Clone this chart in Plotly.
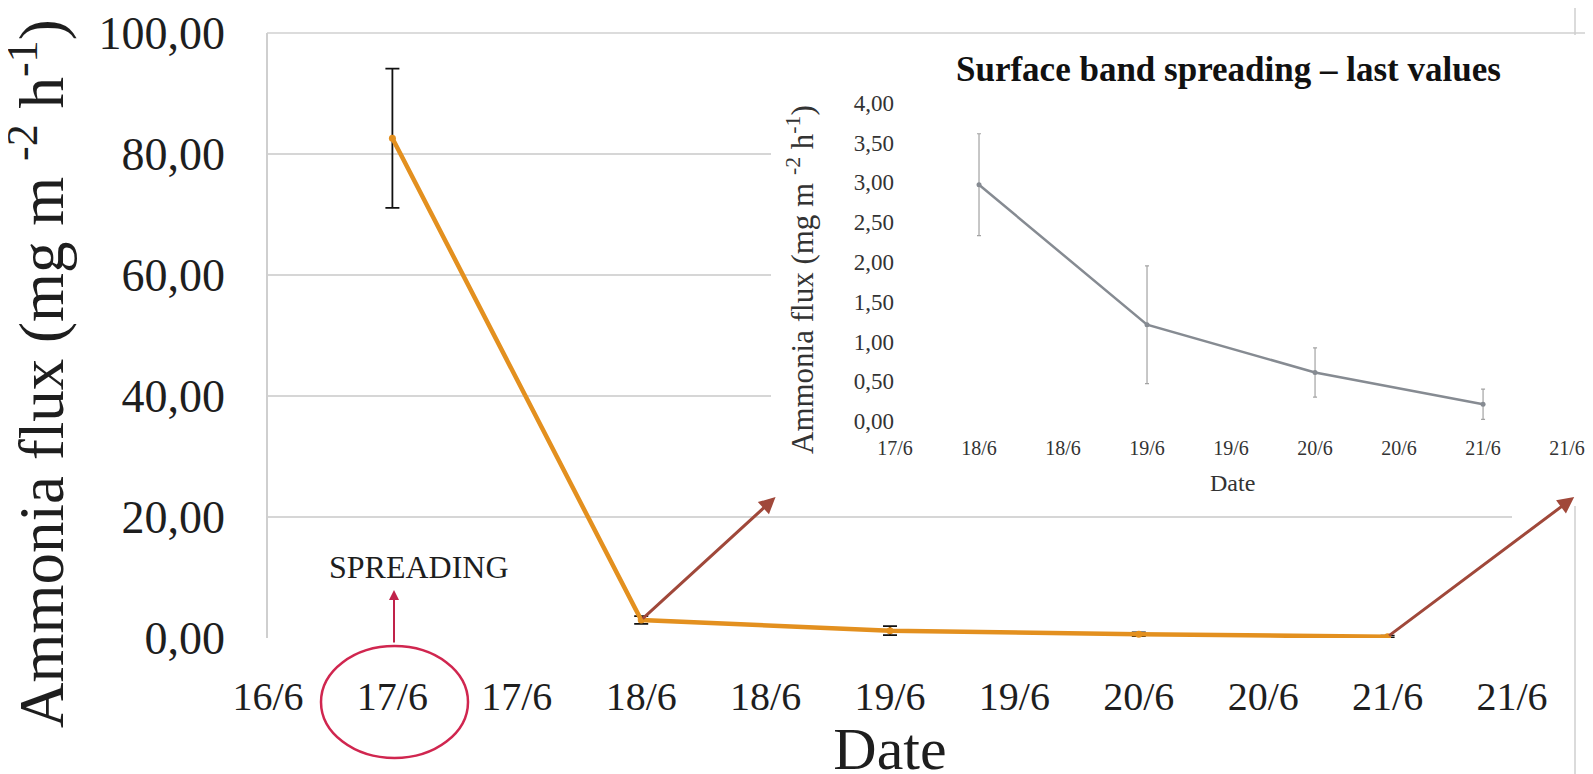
import plotly.graph_objects as go

# ---- data (day of June) ----
dates = [17, 18, 19, 20, 21]
flux = [82.6, 2.97, 1.21, 0.61, 0.21]
flux_err = [11.5, 0.64, 0.74, 0.31, 0.19]

main_tick_vals = [16.5, 17, 17.5, 18, 18.5, 19, 19.5, 20, 20.5, 21, 21.5]
main_tick_text = ["16/6", "17/6", "17/6", "18/6", "18/6", "19/6", "19/6", "20/6", "20/6", "21/6", "21/6"]
main_y_ticks = [0, 20, 40, 60, 80, 100]

inset_tick_vals = [17.5, 18, 18.5, 19, 19.5, 20, 20.5, 21, 21.5]
inset_tick_text = ["17/6", "18/6", "18/6", "19/6", "19/6", "20/6", "20/6", "21/6", "21/6"]
inset_y_ticks = [0, 0.5, 1, 1.5, 2, 2.5, 3, 3.5, 4]

W, H = 1593, 774
SERIF = "Liberation Serif, Times New Roman, serif"
YTITLE = "Ammonia flux (mg m <sup>-2</sup> h<sup>-1</sup>)"


def px(x):
    return x / W


def py(y):
    return 1 - y / H


fig = go.Figure()

# main series
fig.add_trace(go.Scatter(
    x=dates, y=flux, mode="lines+markers",
    line=dict(color="#E3901F", width=4.5),
    marker=dict(size=7, color="#E3901F"),
    error_y=dict(type="data", array=flux_err, color="#111111", thickness=1.8, width=7),
    xaxis="x", yaxis="y", showlegend=False,
))

# inset series (last values)
fig.add_trace(go.Scatter(
    x=dates[1:], y=flux[1:], mode="lines+markers",
    line=dict(color="#868b92", width=2.5),
    marker=dict(size=5, color="#868b92"),
    error_y=dict(type="data", array=flux_err[1:], color="#a3a3a3", thickness=1.2, width=2),
    xaxis="x2", yaxis="y2", showlegend=False,
))

fig.update_layout(
    width=W, height=H,
    margin=dict(l=0, r=0, t=0, b=0, autoexpand=False),
    paper_bgcolor="white", plot_bgcolor="white",
    separators=", ",
    showlegend=False,
    xaxis=dict(
        domain=[px(260), px(1504)], range=[16.5, 21.5], anchor="y", automargin=False,
        tickmode="array", tickvals=main_tick_vals, ticktext=main_tick_text,
        tickfont=dict(family=SERIF, size=40, color="#1e1e1e"),
        showgrid=False, zeroline=False, showline=False, ticks="",
        ticklabelstandoff=31, ticklabeloverflow="allow",
        title=dict(text="Date", font=dict(family=SERIF, size=60, color="#1e1e1e"), standoff=6),
    ),
    yaxis=dict(
        domain=[py(630), py(25)], range=[0, 100], anchor="x", automargin=False,
        tickmode="array", tickvals=main_y_ticks, tickformat=".2f",
        tickfont=dict(family=SERIF, size=46, color="#1e1e1e"),
        showgrid=True, gridcolor="#d6d6d6", gridwidth=1.5,
        zeroline=False, showline=True, linecolor="#cfcfcf", linewidth=1.5, ticks="",
        ticklabelstandoff=32, ticklabeloverflow="allow",
    ),
    xaxis2=dict(
        domain=[px(763), px(1571)], range=[16.762, 21.571], anchor="free", position=py(413),
        automargin=False,
        tickmode="array", tickvals=inset_tick_vals, ticktext=inset_tick_text,
        tickfont=dict(family=SERIF, size=20, color="#333333"),
        showgrid=False, zeroline=False, showline=False, ticks="",
        ticklabelstandoff=13, ticklabeloverflow="allow",
    ),
    yaxis2=dict(
        domain=[py(498), py(27)], range=[-1.068, 4.851], anchor="free", position=px(892),
        automargin=False,
        tickmode="array", tickvals=inset_y_ticks, tickformat=".2f",
        tickfont=dict(family=SERIF, size=23, color="#333333"),
        showgrid=False, zeroline=False, showline=False, ticks="",
        ticklabelstandoff=6, ticklabeloverflow="allow",
    ),
)

# frame lines of the chart area
fig.add_shape(type="line", xref="paper", yref="paper", x0=px(259), x1=1, y0=py(25), y1=py(25),
              line=dict(color="#d0d0d0", width=1.5), layer="below")
fig.add_shape(type="line", xref="paper", yref="paper", x0=px(1567), x1=px(1567), y0=0, y1=1,
              line=dict(color="#cfcfcf", width=1.5), layer="below")

# red ellipse around the spreading date
fig.add_shape(type="circle", xref="paper", yref="paper",
              x0=px(313), x1=px(460), y0=py(750), y1=py(638),
              line=dict(color="#D0264F", width=2.5), layer="above")

# main y-axis title
fig.add_annotation(text=YTITLE, xref="paper", yref="paper", x=px(30), y=py(366),
                   xanchor="center", yanchor="middle", textangle=-90, showarrow=False,
                   font=dict(family=SERIF, size=63, color="#1e1e1e"))

# inset titles
fig.add_annotation(text="<b>Surface band spreading – last values</b>", xref="paper", yref="paper",
                   x=px(1220), y=py(62), xanchor="center", yanchor="middle", showarrow=False,
                   font=dict(family=SERIF, size=35, color="#111111"))
fig.add_annotation(text=YTITLE, xref="paper", yref="paper", x=px(792), y=py(272),
                   xanchor="center", yanchor="middle", textangle=-90, showarrow=False,
                   font=dict(family=SERIF, size=31, color="#333333"))
fig.add_annotation(text="Date", xref="paper", yref="paper", x=px(1224), y=py(475),
                   xanchor="center", yanchor="middle", showarrow=False,
                   font=dict(family=SERIF, size=24, color="#333333"))

# SPREADING label and arrow
fig.add_annotation(text="SPREADING", xref="paper", yref="paper", x=px(411), y=py(559),
                   xanchor="center", yanchor="middle",
                   showarrow=False, font=dict(family=SERIF, size=32, color="#1e1e1e"))
fig.add_annotation(text="", xref="paper", yref="paper", x=px(386), y=py(582),
                   ax=0, ay=54, axref="pixel", ayref="pixel", showarrow=True,
                   arrowhead=2, arrowsize=1, arrowwidth=2, arrowcolor="#C0224A")

# brown arrows pointing to the inset
fig.add_annotation(text="", x=18.54, y=23.3, xref="x", yref="y",
                   ax=dates[1], ay=flux[1], axref="x", ayref="y", showarrow=True,
                   arrowhead=2, arrowsize=1.1, arrowwidth=3, arrowcolor="#A0483A")
fig.add_annotation(text="", x=21.75, y=23.3, xref="x", yref="y",
                   ax=dates[4], ay=flux[4], axref="x", ayref="y", showarrow=True,
                   arrowhead=2, arrowsize=1.1, arrowwidth=3, arrowcolor="#A0483A")

fig.write_html("out.html")
